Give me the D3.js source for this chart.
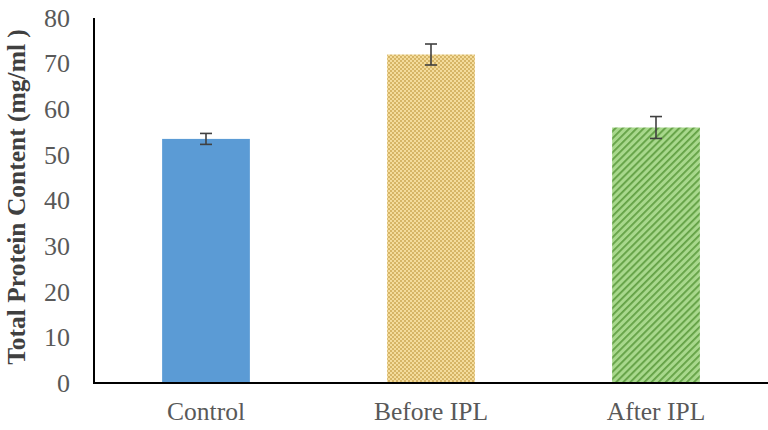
<!DOCTYPE html>
<html><head><meta charset="utf-8">
<script src="https://cdn.jsdelivr.net/npm/d3@7/dist/d3.min.js"></script>
<style>body{margin:0;background:#fff}svg{display:block}text{font-family:"Liberation Serif","Times New Roman",Tinos,serif}</style>
</head><body>
<svg id="c" width="768" height="430"></svg>
<script>
const categories = ["Control", "Before IPL", "After IPL"];
const values = [53.5, 72, 56];
const errors = [1.2, 2.3, 2.4];
const yTicks = [0, 10, 20, 30, 40, 50, 60, 70, 80];
const yTitle = "Total Protein Content (mg/ml )";

const FONT = '"Liberation Serif","Times New Roman",Tinos,serif';
const svg = d3.select("#c");
const defs = svg.append("defs");
const pc = defs.append("pattern").attr("id","checker").attr("patternUnits","userSpaceOnUse")
  .attr("width",4).attr("height",4);
pc.append("rect").attr("width",4).attr("height",4).attr("fill","#f4dc9c");
pc.append("rect").attr("width",2).attr("height",2).attr("fill","#d6b566");
pc.append("rect").attr("x",2).attr("y",2).attr("width",2).attr("height",2).attr("fill","#d6b566");
const ps = defs.append("pattern").attr("id","stripes").attr("patternUnits","userSpaceOnUse")
  .attr("width",5).attr("height",5).attr("patternTransform","rotate(45)");
ps.append("rect").attr("width",5).attr("height",5).attr("fill","#a8d88c");
ps.append("rect").attr("width",1.8).attr("height",5).attr("fill","#62a044");

const fills = ["#5b9bd5", "url(#checker)", "url(#stripes)"];

const x = d3.scaleBand().domain(categories).range([93.5, 768.5]).paddingInner(0.61).paddingOuter(0.305);
const y = d3.scaleLinear().domain([0, 80]).range([383, 18]);

svg.selectAll("rect.bar").data(categories).join("rect").attr("class","bar")
  .attr("x", d => x(d)).attr("width", x.bandwidth())
  .attr("y", (d,i) => y(values[i])).attr("height", (d,i) => y(0) - y(values[i]))
  .attr("fill", (d,i) => fills[i]);

const eg = svg.append("g").attr("stroke","#404040").attr("stroke-width",1.6);
categories.forEach((c,i) => {
  const cx = x(c) + x.bandwidth()/2;
  eg.append("line").attr("x1",cx).attr("x2",cx).attr("y1",y(values[i]+errors[i])).attr("y2",y(values[i]-errors[i]));
  eg.append("line").attr("x1",cx-6).attr("x2",cx+6).attr("y1",y(values[i]+errors[i])).attr("y2",y(values[i]+errors[i]));
  eg.append("line").attr("x1",cx-6).attr("x2",cx+6).attr("y1",y(values[i]-errors[i])).attr("y2",y(values[i]-errors[i]));
});

const ya = svg.append("g").attr("transform","translate(94,0)")
  .call(d3.axisLeft(y).tickValues(yTicks).tickSize(0).tickPadding(24).tickFormat(d3.format("d")));
ya.select(".domain").remove();
ya.attr("font-family", null).attr("font-size", null);
ya.selectAll("text").style("font-family",FONT).attr("font-size",26).attr("fill","#595959");

const xa = svg.append("g").attr("transform","translate(0,383)")
  .call(d3.axisBottom(x).tickSize(0).tickPadding(19));
xa.select(".domain").remove();
xa.attr("font-family", null).attr("font-size", null);
xa.selectAll("text").style("font-family",FONT).attr("font-size",25.5).attr("fill","#595959");

svg.append("line").attr("x1",94).attr("x2",94).attr("y1",18).attr("y2",384).attr("stroke","#000").attr("stroke-width",2);
svg.append("line").attr("x1",93).attr("x2",768).attr("y1",383).attr("y2",383).attr("stroke","#000").attr("stroke-width",2);

svg.append("text").attr("transform","translate(25,197) rotate(-90)")
  .attr("text-anchor","middle").style("font-family",FONT).attr("font-weight","bold")
  .attr("font-size",25.5).attr("fill","#404040").text(yTitle);
</script>
</body></html>
